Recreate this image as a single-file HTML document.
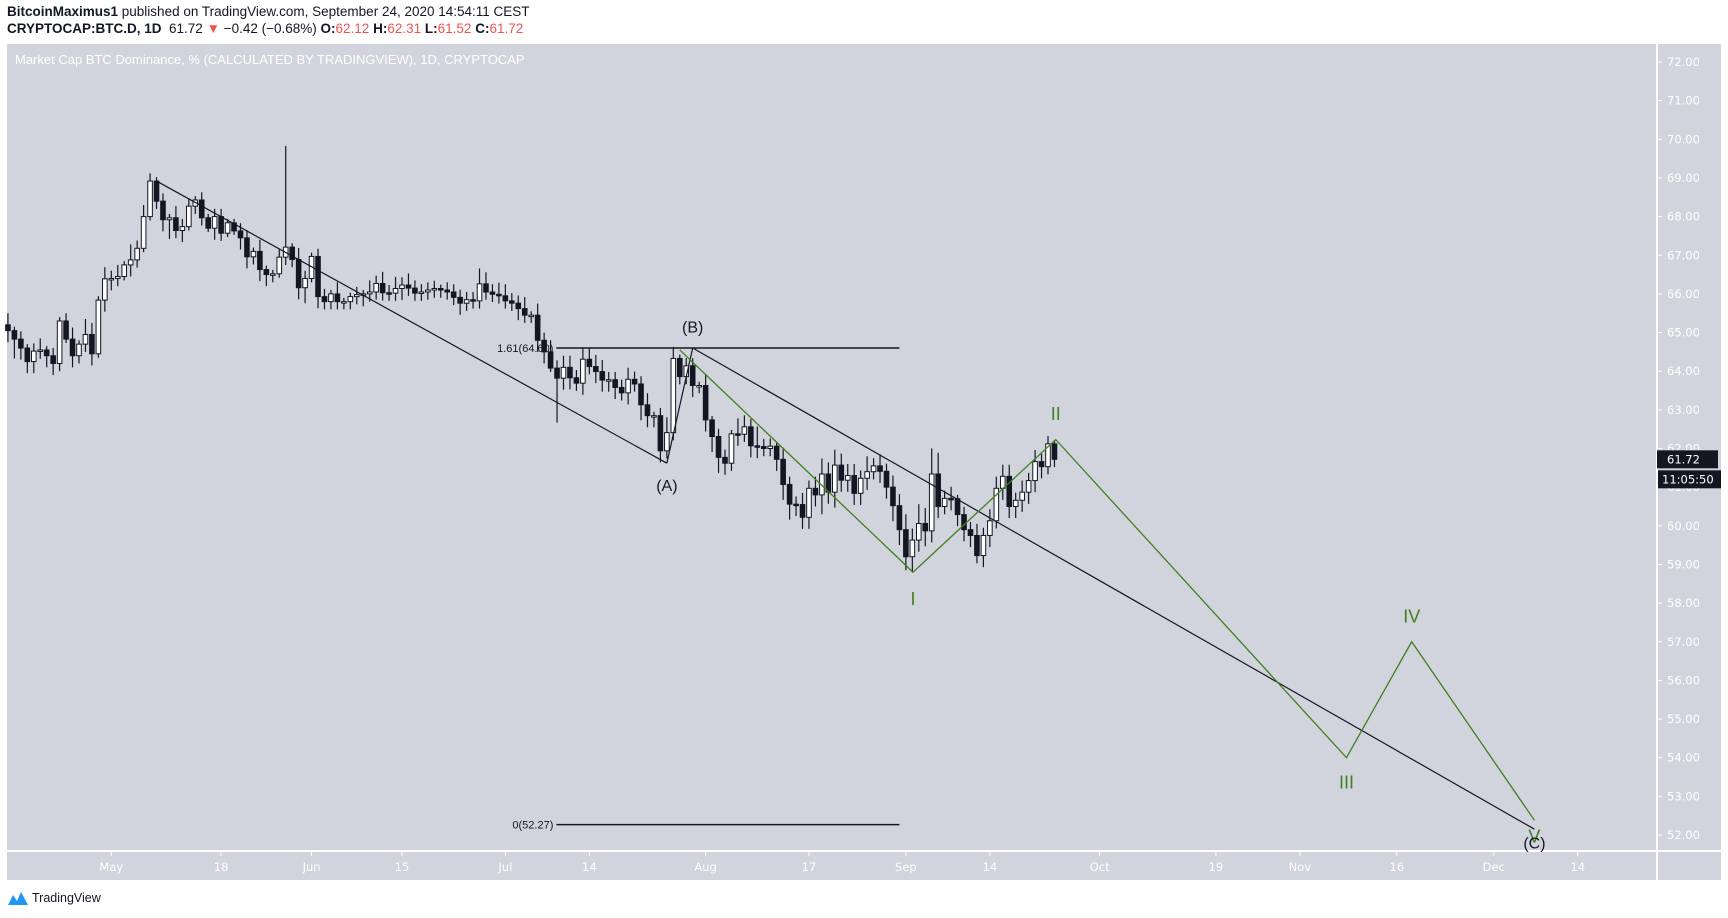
<!DOCTYPE html>
<html><head><meta charset="utf-8">
<style>
html,body{margin:0;padding:0;background:#fff;width:1728px;height:918px;overflow:hidden;font-family:"Liberation Sans",sans-serif}
#hdr1{position:absolute;left:7px;top:4px;font-size:13.5px;color:#131722}
#hdr2{position:absolute;left:7px;top:21px;font-size:13.5px;color:#131722}
.red{color:#ef5350}
#foot{position:absolute;left:8px;top:891px;font-size:12.5px;color:#131722;display:flex;align-items:center;gap:4px}
</style></head>
<body>
<div id="hdr1"><b>BitcoinMaximus1</b> published on TradingView.com, September 24, 2020 14:54:11 CEST</div>
<div id="hdr2"><b>CRYPTOCAP:BTC.D, 1D</b>&nbsp; 61.72 <span class="red">▼</span> −0.42 (−0.68%) <b>O:</b><span class="red">62.12</span> <b>H:</b><span class="red">62.31</span> <b>L:</b><span class="red">61.52</span> <b>C:</b><span class="red">61.72</span></div>
<svg id="chart" width="1728" height="918" style="position:absolute;left:0;top:0" xmlns="http://www.w3.org/2000/svg">
<rect x="7" y="44" width="1714" height="836" fill="#d1d4dc"/>
<line x1="1657" y1="44" x2="1657" y2="880" stroke="#fff" stroke-width="2"/>
<line x1="7" y1="851" x2="1721" y2="851" stroke="#fff" stroke-width="2"/>
<text x="15" y="64" fill="#fff" font-size="13" font-family="Liberation Sans, sans-serif">Market Cap BTC Dominance, % (CALCULATED BY TRADINGVIEW), 1D, CRYPTOCAP</text>
<g id="yaxis"></g><g id="xaxis"></g>
<g id="candles"></g>
<g id="draw"></g>
<g id="lbls"></g>
</svg>
<div id="foot"><svg width="20" height="13" viewBox="0 0 20 13"><path d="M0 13 L5 3 L9 9 L13 0 L20 13 Z" fill="#2196f3"/></svg>TradingView</div>
<script>
const firstDay = -16;
const closes = [65.05,64.83,64.6,64.25,64.52,64.55,64.4,64.2,65.3,64.83,64.4,64.7,64.95,64.45,65.84,66.39,66.4,66.45,66.75,66.88,67.18,68.0,68.92,68.4,67.92,67.97,67.64,67.74,68.27,68.43,67.97,67.7,68.0,67.57,67.84,67.63,67.45,66.96,67.1,66.63,66.5,66.52,66.95,67.21,66.89,66.16,66.4,66.97,65.93,65.8,66.0,65.8,65.8,65.93,65.98,66.0,66.05,66.27,
66.03,66.02,66.14,66.23,66.15,66.02,66.05,66.1,66.14,66.1,66.05,65.91,65.76,65.85,65.82,66.26,66.05,65.99,65.95,65.82,65.76,65.62,65.45,65.45,64.8,64.5,64.08,63.82,64.1,63.83,63.69,64.31,64.12,63.99,63.77,63.78,63.58,63.44,63.79,63.67,63.13,62.85,62.85,61.94,62.41,64.33,63.86,64.14,63.63,63.63,62.74,62.31,61.77,61.62,62.38,62.37,62.56,
62.07,62.05,62.0,62.06,61.72,61.07,60.56,60.55,60.22,60.97,60.8,61.34,60.87,61.57,61.18,61.3,60.84,61.23,61.4,61.55,61.41,61.0,60.52,59.9,59.2,59.63,60.06,59.87,61.34,60.5,60.71,60.7,60.29,59.9,59.75,59.23,59.75,60.13,60.97,61.28,60.5,60.66,60.87,61.17,61.66,61.53,62.12,61.72];
const firstOpen = 65.2;
const wickUp = [0.3,0.1,0.2,0.1,0.2,0.3,0.1,0.2,0.1,0.2,0.3,0.1,0.4,0.3,0.1,0.3,0.2,0.3,0.1,0.4,0.2,0.3,0.2,0.1,0.2,0.1,0.3,0.2,0.2,0.1,0.2,0.1,0.2,0.2,0.1,0.1,0.2,0.2,0.1,0.3,0.1,0.1,0.2,2.62,0.1,0.3,0.2,0.1,0.2,0.2,0.1,0.3,0.1,0.1,0.2,0.1,0.3,0.2,
0.3,0.2,0.3,0.2,0.3,0.2,0.2,0.2,0.2,0.1,0.2,0.2,0.2,0.2,0.2,0.4,0.3,0.2,0.3,0.3,0.2,0.2,0.3,0.1,0.3,0.2,0.3,0.2,0.3,0.3,0.2,0.3,0.3,0.3,0.3,0.2,0.2,0.2,0.3,0.2,0.2,0.3,0.1,0.2,0.4,0.3,0.1,0.2,0.2,0.1,0.3,0.1,0.2,0.2,0.1,0.4,0.3,
0.2,0.5,0.2,0.2,0.1,0.3,0.2,0.2,0.3,0.2,0.3,0.4,0.3,0.4,0.3,0.3,0.3,0.2,0.4,0.2,0.3,0.2,0.3,0.3,0.4,0.3,0.5,0.4,0.66,0.55,0.2,0.3,0.1,0.2,0.2,0.3,0.2,0.3,0.3,0.3,0.3,0.2,0.3,0.2,0.3,0.2,0.2,0.1];
const wickDn = [0.3,0.5,0.3,0.3,0.3,0.2,0.3,0.3,0.2,0.1,0.3,0.2,0.2,0.3,0.1,0.3,0.3,0.2,0.1,0.3,0.2,0.1,0.1,0.2,0.3,0.5,0.2,0.3,0.1,0.2,0.2,0.1,0.3,0.2,0.1,0.1,0.3,0.3,0.2,0.3,0.3,0.2,0.1,0.2,0.2,0.3,0.4,0.1,0.3,0.2,0.2,0.2,0.2,0.2,0.2,0.3,0.2,0.2,
0.2,0.2,0.2,0.3,0.2,0.2,0.2,0.2,0.2,0.2,0.2,0.2,0.3,0.2,0.2,0.2,0.2,0.2,0.2,0.2,0.2,0.3,0.2,0.2,0.3,0.3,0.1,1.15,0.3,0.3,0.2,0.3,0.2,0.3,0.3,0.3,0.3,0.2,0.3,0.2,0.4,0.3,0.3,0.3,0.2,0.2,0.2,0.2,0.3,0.2,0.3,0.4,0.4,0.3,0.2,0.3,0.2,
0.3,0.3,0.2,0.2,0.3,0.4,0.4,0.3,0.3,0.3,0.3,0.5,0.3,0.4,0.3,0.3,0.3,0.3,0.3,0.2,0.3,0.3,0.4,0.4,0.35,0.4,0.3,0.4,0.3,0.3,0.2,0.3,0.3,0.3,0.3,0.2,0.3,0.3,0.2,0.3,0.3,0.3,0.3,0.3,0.3,0.3,0.2,0.2];
const yTicks = [52,53,54,55,56,57,58,59,60,61,62,63,64,65,66,67,68,69,70,71,72];
const xTickDays = [0,17,31,45,61,74,92,108,123,136,153,171,184,199,214,227];
const xTickLabels = ["May","18","Jun","15","Jul","14","Aug","17","Sep","14","Oct","19","Nov","16","Dec","14"];
const trendDays = [7,86,90,220.3];
const trendPrices = [68.92,61.62,64.6,52.15];
const waveDays = [88,124.1,146.2,191.2,201.3,220.3];
const wavePrices = [64.55,58.8,62.23,54.0,57.0,52.38];
const fibLevels = [64.6,52.27];
const fibLabels = ["1.61(64.60)","0(52.27)"];
const fibDays = [68.9,122];
const waveLabels = ["(A)","(B)","I","II","III","IV","V","(C)"];
const waveLabelDays = [86,90,124.1,146.2,191.2,201.3,220.3,220.3];
const waveLabelPrices = [60.9,65.0,57.95,62.74,53.2,57.5,51.8,51.65];
const lastPrice = 61.72;

const NS="http://www.w3.org/2000/svg";
const X = d => 111.3 + d*6.46;
const Y = p => 62 + (72-p)*38.65;
function mk(tag, attrs, parent){const e=document.createElementNS(NS,tag);for(const k in attrs)e.setAttribute(k,attrs[k]);parent.appendChild(e);return e;}
const ya=document.getElementById('yaxis'), xa=document.getElementById('xaxis'), cg=document.getElementById('candles'), dg=document.getElementById('draw'), lg=document.getElementById('lbls');
yTicks.forEach(v=>{
  const t=mk('line',{x1:1657,x2:1662,y1:Y(v),y2:Y(v),stroke:'#fff'},ya);
  
  
  const s=mk('text',{x:1667,y:Y(v)+4,fill:'#fff','font-size':11.5,'font-family':'DejaVu Sans, sans-serif'},ya);
  s.textContent=v.toFixed(2);
  
  
});
xTickDays.forEach((d,i)=>{
  const t=mk('line',{x1:X(d),x2:X(d),y1:851,y2:856,stroke:'#fff'},xa);
  
  
  const s=mk('text',{x:X(d),y:871,fill:'#fff','font-size':11.5,'text-anchor':'middle','font-family':'DejaVu Sans, sans-serif'},xa);
  s.textContent=xTickLabels[i];
  
  
});
let prev=firstOpen;
closes.forEach((c,i)=>{
  const o=prev; prev=c;
  const d=firstDay+i, x=X(d);
  const hi=Math.max(o,c)+wickUp[i], lo=Math.min(o,c)-wickDn[i];
  const w=mk('line',{x1:x,x2:x,y1:Y(hi),y2:Y(lo),stroke:'#131722','stroke-width':1.2},cg);
  
  
  const top=Y(Math.max(o,c)), h=Math.max(1.5,Math.abs(Y(o)-Y(c)));
  const b=mk('rect',{x:x-2.3,y:top,width:4.6,height:h,fill:c>=o?'#fff':'#131722',stroke:'#131722','stroke-width':1},cg);
  
  
});
const l1=mk('line',{x1:X(trendDays[0]),y1:Y(trendPrices[0]),x2:X(trendDays[1]),y2:Y(trendPrices[1]),stroke:'#131722','stroke-width':1.2},dg);


const l2=mk('line',{x1:X(trendDays[1]),y1:Y(trendPrices[1]),x2:X(trendDays[2]),y2:Y(trendPrices[2]),stroke:'#131722','stroke-width':1.2},dg);


const l3=mk('line',{x1:X(trendDays[2]),y1:Y(trendPrices[2]),x2:X(trendDays[3]),y2:Y(trendPrices[3]),stroke:'#131722','stroke-width':1.2},dg);


fibLevels.forEach((p,i)=>{
  const f=mk('line',{x1:X(fibDays[0]),x2:X(fibDays[1]),y1:Y(p),y2:Y(p),stroke:'#131722','stroke-width':1.5},dg);
  
  
  const t=mk('text',{x:X(fibDays[0])-3,y:Y(p)+4,fill:'#131722','font-size':11,'text-anchor':'end'},lg);
  t.textContent=fibLabels[i];
  
  
});
const wv=mk('polyline',{points:waveDays.map((d,i)=>X(d)+','+Y(wavePrices[i])).join(' '),fill:'none',stroke:'#3f7f1f','stroke-width':1.3},dg);


waveLabels.forEach((s,i)=>{
  const green=!s.startsWith('(');
  const t=mk('text',{x:X(waveLabelDays[i]),y:Y(waveLabelPrices[i]),fill:green?'#3f7f1f':'#131722','font-size':green?18:16,'text-anchor':'middle'},lg);
  t.textContent=s;
  
  
});
const pb=mk('rect',{x:1657,y:Y(lastPrice)-9,width:61,height:18,fill:'#131722'},lg);


const pt=mk('text',{x:1667,y:Y(lastPrice)+4,fill:'#fff','font-size':11.5,'font-family':'DejaVu Sans, sans-serif'},lg);
pt.textContent=lastPrice.toFixed(2);


const cb=mk('rect',{x:1658,y:Y(lastPrice)+11,width:63,height:18,fill:'#131722'},lg);


const ct=mk('text',{x:1662,y:Y(lastPrice)+24,fill:'#fff','font-size':11.5,'font-family':'DejaVu Sans, sans-serif'},lg);
ct.textContent='11:05:50';


</script>
</body></html>
